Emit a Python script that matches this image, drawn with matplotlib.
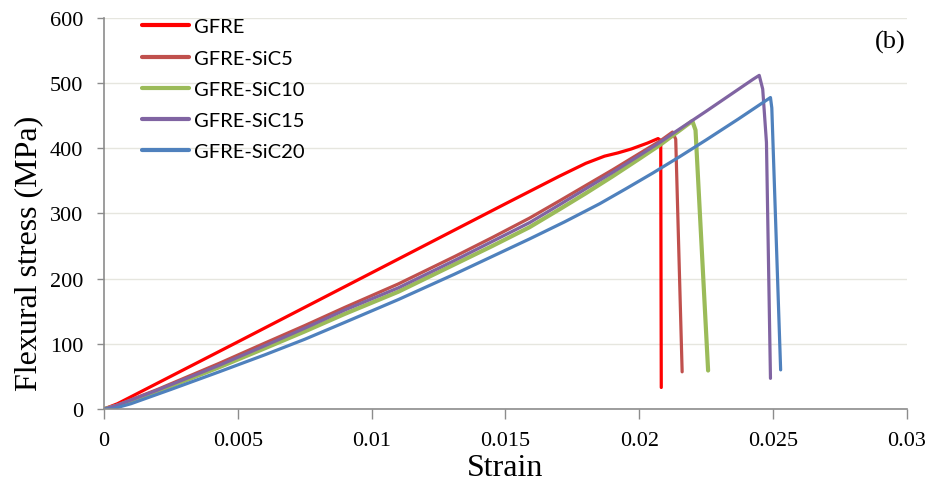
import numpy as np
import matplotlib
matplotlib.use("Agg")
import matplotlib.pyplot as plt

# strain / stress
strain_gfre = [0, 0.0005, 0.005, 0.01, 0.015, 0.017, 0.018, 0.0187, 0.0192, 0.0197, 0.0203, 0.0207, 0.0208, 0.02082]
stress_gfre = [0, 8, 103, 209, 315, 357, 377, 388, 393, 399, 408, 415, 412, 33]

strain_sic5 = [0, 0.0005, 0.002, 0.0043, 0.006, 0.0075, 0.009, 0.011, 0.0131, 0.0145, 0.0159, 0.017, 0.018,
               0.019, 0.02, 0.0208, 0.02124, 0.02136, 0.0216]
stress_sic5 = [0, 6, 30, 70, 101, 128, 156, 192, 234, 263, 293, 319, 343,
               367, 392, 412, 425, 414, 57]

strain_sic10 = [0, 0.0005, 0.002, 0.0043, 0.006, 0.0075, 0.009, 0.011, 0.0131, 0.0145, 0.0159, 0.017, 0.018,
                0.019, 0.02, 0.0208, 0.02198, 0.0221, 0.02257]
stress_sic10 = [0, 5, 27, 64, 93, 119, 146, 180, 222, 250, 279, 306, 331,
                357, 384, 406, 442, 428, 59]

strain_sic15 = [0, 0.0005, 0.002, 0.0043, 0.006, 0.0075, 0.009, 0.011, 0.0131, 0.0145, 0.0159, 0.017, 0.018,
                0.019, 0.02, 0.0208, 0.02126, 0.0225, 0.0235, 0.02425, 0.02448, 0.02461, 0.02475, 0.0249]
stress_sic15 = [0, 6, 29, 67, 97, 124, 152, 186, 228, 257, 286, 313, 338,
                363, 389, 410, 423, 457, 485, 506, 512, 491, 409, 47]

strain_sic20 = [0, 0.0003, 0.001, 0.0025, 0.0043, 0.006, 0.0075, 0.009, 0.011, 0.0131, 0.0145, 0.0159, 0.0172,
                0.01852, 0.0195, 0.0205, 0.0215, 0.0225, 0.0237, 0.0249, 0.02495, 0.02528]
stress_sic20 = [0, 0, 8, 30, 57, 83, 107, 133, 168, 207, 234, 261, 287,
                315, 338, 362, 387, 413, 445, 478, 462, 60]

labels = ["GFRE", "GFRE-SiC5", "GFRE-SiC10", "GFRE-SiC15", "GFRE-SiC20"]
colors = ["#FF0000", "#C0504D", "#9BBB59", "#8064A2", "#4F81BD"]
widths = [2.3, 2.3, 3.0, 2.3, 2.3]

xticks = [0, 0.005, 0.01, 0.015, 0.02, 0.025, 0.03]
xticklabels = ["0", "0.005", "0.01", "0.015", "0.02", "0.025", "0.03"]
yticks = [0, 100, 200, 300, 400, 500, 600]

fig = plt.figure(figsize=(9.33, 4.89), dpi=100)
ax = fig.add_axes([0.1115, 0.1616, 0.8606, 0.7995])

curves = [(strain_gfre, stress_gfre), (strain_sic5, stress_sic5), (strain_sic10, stress_sic10),
          (strain_sic15, stress_sic15), (strain_sic20, stress_sic20)]
for (x, y), lab, c, lw in zip(curves, labels, colors, widths):
    ax.plot(x, y, color=c, lw=lw, label=lab, solid_capstyle="round", solid_joinstyle="round")

ax.set_xlim(0, 0.03)
ax.set_ylim(0, 600)
ax.set_xticks(xticks)
ax.set_xticklabels(xticklabels)
ax.set_yticks(yticks)

serif = "Liberation Serif"
for t in ax.get_xticklabels() + ax.get_yticklabels():
    t.set_fontfamily(serif)
    t.set_fontsize(16)

ax.tick_params(axis="x", direction="out", length=7, width=1, color="#8C8C8C", pad=9)
ax.tick_params(axis="y", direction="out", length=5, width=1, color="#8C8C8C", pad=10)

for side in ["top", "right"]:
    ax.spines[side].set_visible(False)
for side in ["left", "bottom"]:
    ax.spines[side].set_color("#8C8C8C")
    ax.spines[side].set_linewidth(1.2)

ax.yaxis.grid(True, color="#E6E6DF", lw=1)
ax.set_axisbelow(True)

ax.set_xlabel("Strain", fontfamily=serif, fontsize=23, labelpad=2)
ax.set_ylabel("Flexural stress (MPa)", fontfamily=serif, fontsize=23)
ax.yaxis.set_label_coords(-0.076, 0.40)

ax.text(0.979, 0.941, "(b)", transform=ax.transAxes, fontfamily=serif, fontsize=19,
        ha="center", va="center")

leg = ax.legend(loc="upper left", bbox_to_anchor=(0.037, 1.02), frameon=False,
                prop={"family": "Lato", "size": 14.5}, handlelength=2.35,
                handletextpad=0.25, labelspacing=0.7, borderaxespad=0)
for h in leg.get_lines():
    h.set_linewidth(3.0)

fig.savefig("out.png", dpi=100)
